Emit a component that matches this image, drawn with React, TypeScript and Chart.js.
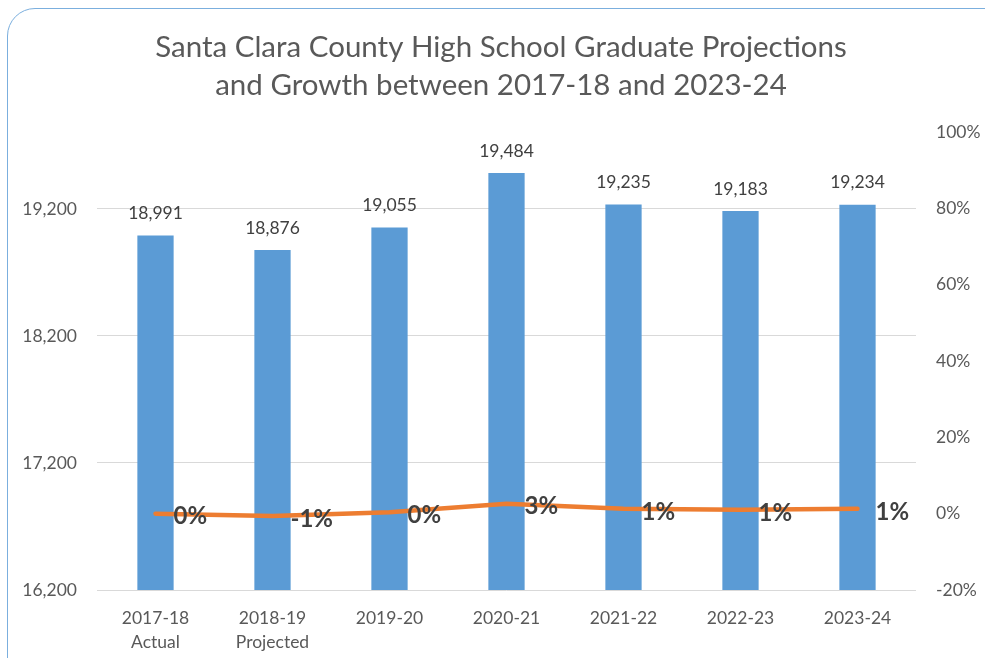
import React, { useEffect, useRef } from "react";
import { Chart, registerables } from "chart.js";

Chart.register(...registerables);

const categories: string[][] = [
  ["2017-18", "Actual"],
  ["2018-19", "Projected"],
  ["2019-20"],
  ["2020-21"],
  ["2021-22"],
  ["2022-23"],
  ["2023-24"],
];
const graduates: number[] = [18991, 18876, 19055, 19484, 19235, 19183, 19234];
const growthPct: number[] = [0, -0.6, 0.34, 2.6, 1.28, 1.01, 1.28];
const leftTicks: number[] = [16200, 17200, 18200, 19200];
const titleLines: string[] = [
  "Santa Clara County High School Graduate Projections",
  "and Growth between 2017-18 and 2023-24",
];

const FONT = "Lato, 'Open Sans', sans-serif";

const labelPlugin = {
  id: "valueLabels",
  afterDatasetsDraw(chart: any) {
    const ctx = chart.ctx;
    ctx.save();
    const barMeta = chart.getDatasetMeta(0);
    ctx.font = `17.5px ${FONT}`;
    ctx.fillStyle = "#404040";
    ctx.textAlign = "center";
    ctx.textBaseline = "middle";
    barMeta.data.forEach((el: any, i: number) => {
      ctx.fillText(graduates[i].toLocaleString("en-US"), el.x, el.y - 22);
    });
    const lineMeta = chart.getDatasetMeta(1);
    ctx.font = `bold 24px ${FONT}`;
    ctx.textAlign = "left";
    lineMeta.data.forEach((el: any, i: number) => {
      const v = Math.round(growthPct[i]);
      ctx.fillText(`${v === 0 ? 0 : v}%`, el.x + 18, el.y + 3);
    });
    ctx.restore();
  },
};

export default function App() {
  const ref = useRef<HTMLCanvasElement | null>(null);
  useEffect(() => {
    if (!ref.current) return;
    const chart = new Chart(ref.current, {
      type: "bar",
      data: {
        labels: categories,
        datasets: [
          {
            type: "bar",
            data: graduates,
            backgroundColor: "#5B9BD5",
            categoryPercentage: 1,
            barPercentage: 0.31,
            yAxisID: "y",
            order: 1,
          } as any,
          {
            type: "line",
            data: growthPct,
            borderColor: "#ED7D31",
            borderWidth: 4.5,
            borderCapStyle: "round",
            pointRadius: 0,
            tension: 0,
            yAxisID: "y1",
            order: 0,
          } as any,
        ],
      },
      options: {
        animation: false,
        responsive: false,
        maintainAspectRatio: false,
        layout: { padding: { left: 17, right: 0, top: 0, bottom: 0 } },
        font: { family: FONT },
        plugins: {
          legend: { display: false },
          tooltip: { enabled: false },
          title: {
            display: true,
            text: titleLines,
            color: "#595959",
            font: { family: FONT, size: 29.5, weight: "normal", lineHeight: 1.288 },
            padding: { top: 28, bottom: 28 },
          },
        },
        scales: {
          x: {
            grid: { display: false },
            border: { display: false },
            ticks: {
              color: "#595959",
              font: { family: FONT, size: 17.5, lineHeight: 1.37 },
              padding: 8,
              maxRotation: 0,
              autoSkip: false,
            },
            afterFit(scale: any) {
              scale.height = 68;
            },
          },
          y: {
            position: "left",
            min: 16200,
            max: 19806,
            grid: { color: "#D9D9D9", lineWidth: 1, drawTicks: false },
            border: { display: false },
            ticks: {
              color: "#595959",
              font: { family: FONT, size: 17.5 },
              padding: 20,
              callback: (v: any) => Number(v).toLocaleString("en-US"),
            },
            afterBuildTicks(scale: any) {
              scale.ticks = leftTicks.map((v) => ({ value: v }));
            },
            afterFit(scale: any) {
              scale.width = 80;
            },
          },
          y1: {
            position: "right",
            min: -20,
            max: 100,
            grid: { display: false, drawTicks: false },
            border: { display: false },
            ticks: {
              stepSize: 20,
              color: "#595959",
              font: { family: FONT, size: 17.5 },
              padding: 20,
              callback: (v: any) => `${v}%`,
            },
            afterFit(scale: any) {
              scale.width = 69;
            },
          },
        },
      } as any,
      plugins: [labelPlugin],
    });
    return () => chart.destroy();
  }, []);

  return (
    <div
      style={{
        position: "fixed",
        left: 0,
        top: 0,
        width: 985,
        height: 658,
        overflow: "hidden",
        background: "#ffffff",
      }}
    >
      <div
        style={{
          position: "absolute",
          left: 7,
          top: 8,
          width: 1010,
          height: 700,
          border: "1.5px solid #7BAFDE",
          borderRadius: 28,
          boxSizing: "border-box",
        }}
      />
      <canvas
        ref={ref}
        width={985}
        height={658}
        style={{ position: "absolute", left: 0, top: 0, width: 985, height: 658 }}
      />
    </div>
  );
}
